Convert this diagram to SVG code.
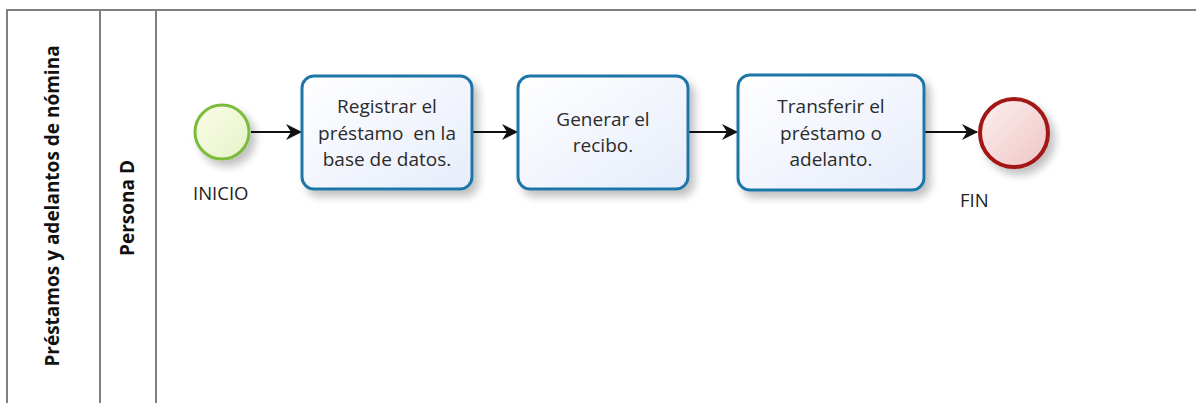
<svg xmlns="http://www.w3.org/2000/svg" width="1196" height="403" viewBox="0 0 1196 403">
<style>
.frame{fill:none;stroke:#7f7f7f;stroke-width:2}
.task{stroke:#1f77a8;stroke-width:3;fill:url(#gTask)}
.ttxt{font-family:"Open Sans","Noto Sans",sans-serif;font-size:19px;fill:#2b2b2b;text-anchor:middle}
.lbl{font-family:"Open Sans","Noto Sans",sans-serif;font-size:18.5px;fill:#222}
.hdr{font-family:"Open Sans","Noto Sans",sans-serif;font-weight:bold;fill:#111;text-anchor:middle}
.conn{stroke:#111;stroke-width:2;fill:none;marker-end:url(#arr)}
</style>
<defs>
<linearGradient id="gTask" x1="0" y1="0" x2="1" y2="1">
<stop offset="0" stop-color="#ffffff"/><stop offset="1" stop-color="#e6ecfa"/>
</linearGradient>
<linearGradient id="gStart" x1="0" y1="0" x2="1" y2="1">
<stop offset="0" stop-color="#fbfde8"/><stop offset="1" stop-color="#e6f2c8"/>
</linearGradient>
<linearGradient id="gEnd" x1="0" y1="0" x2="1" y2="1">
<stop offset="0" stop-color="#fdf0f0"/><stop offset="1" stop-color="#efc4c4"/>
</linearGradient>
<filter id="sh" x="-20%" y="-20%" width="150%" height="160%">
<feGaussianBlur in="SourceAlpha" stdDeviation="4"/>
<feOffset dx="5" dy="6" result="b"/>
<feComponentTransfer><feFuncA type="linear" slope="0.25"/></feComponentTransfer>
<feMerge><feMergeNode/><feMergeNode in="SourceGraphic"/></feMerge>
</filter>
<marker id="arr" viewBox="0 0 16 16" refX="15" refY="8" markerWidth="16" markerHeight="16" markerUnits="userSpaceOnUse" orient="auto">
<path d="M0,0 L16,8 L0,16 L5,8 Z" fill="#111"/>
</marker>
</defs>
<rect width="1196" height="403" fill="#ffffff"/>
<g id="pool">
<path class="frame" d="M7,403 V10 H1196"/>
<line class="frame" x1="100" y1="10" x2="100" y2="403"/>
<line class="frame" x1="156" y1="10" x2="156" y2="403"/>
<text class="hdr" font-size="19" transform="translate(59,206) rotate(-90)">Préstamos y adelantos de nómina</text>
<text class="hdr" font-size="19" transform="translate(134,208) rotate(-90)">Persona D</text>
</g>
<g id="connectors">
<line class="conn" x1="251" y1="132" x2="301" y2="132"/>
<line class="conn" x1="472" y1="132" x2="517" y2="132"/>
<line class="conn" x1="688" y1="132" x2="737" y2="132"/>
<line class="conn" x1="924" y1="132" x2="977" y2="132"/>
</g>
<g id="start">
<circle cx="222" cy="132" r="27" fill="url(#gStart)" stroke="#7cbc3a" stroke-width="3" filter="url(#sh)"/>
<text class="lbl" x="193" y="200">INICIO</text>
</g>
<g id="task1">
<rect class="task" x="302" y="76" width="170" height="113" rx="12" filter="url(#sh)"/>
<text class="ttxt" x="387" y="113">Registrar el</text>
<text class="ttxt" x="387" y="140" xml:space="preserve">préstamo  en la</text>
<text class="ttxt" x="387" y="166">base de datos.</text>
</g>
<g id="task2">
<rect class="task" x="518" y="76" width="170" height="113" rx="12" filter="url(#sh)"/>
<text class="ttxt" x="603" y="126">Generar el</text>
<text class="ttxt" x="603" y="152">recibo.</text>
</g>
<g id="task3">
<rect class="task" x="738" y="75" width="186" height="115" rx="12" filter="url(#sh)"/>
<text class="ttxt" x="831" y="113">Transferir el</text>
<text class="ttxt" x="831" y="140">préstamo o</text>
<text class="ttxt" x="831" y="166">adelanto.</text>
</g>
<g id="end">
<circle cx="1014" cy="133" r="34" fill="url(#gEnd)" stroke="#a31515" stroke-width="4" filter="url(#sh)"/>
<text class="lbl" x="960" y="207">FIN</text>
</g>
</svg>
